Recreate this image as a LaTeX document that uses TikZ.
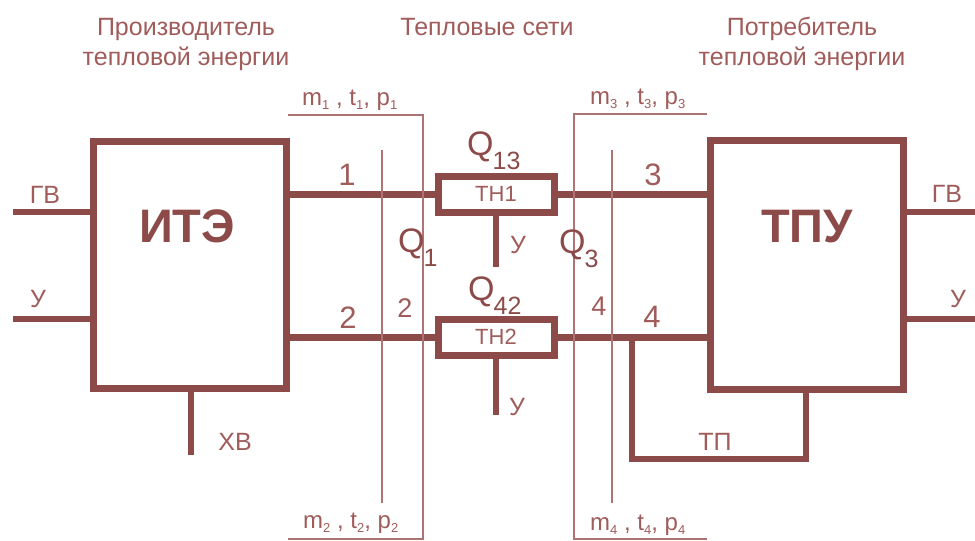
\documentclass[tikz,border=0pt]{standalone}
\usepackage{fontspec}
\setmainfont{Liberation Sans}
\definecolor{ln}{RGB}{140,74,72}
\definecolor{tx}{RGB}{160,92,90}
\newcommand\Qsub[1]{Q\kern-1pt\raisebox{-14pt}{\fontsize{25}{25}\selectfont #1}}
\newcommand\psub[1]{\raisebox{-4pt}{\fontsize{13}{13}\selectfont #1}}
\begin{document}
\begin{tikzpicture}[x=1pt,y=-1pt,
  bigbox/.style={draw=ln,line width=7pt,rectangle,inner sep=0pt},
  thbox/.style={draw=ln,line width=7pt,rectangle,inner sep=0pt,minimum width=116pt,minimum height=36pt,text=tx,font=\fontsize{22}{22}\selectfont},
  pipe/.style={draw=ln,line width=7pt},
  wire/.style={draw=ln,line width=6pt},
  thin/.style={draw=tx!85,line width=1.6pt},
  lbl/.style={text=tx,inner sep=0pt,anchor=base,font=\fontsize{25}{25}\selectfont},
  plbl/.style={text=tx,inner sep=0pt,anchor=base west,font=\fontsize{24}{24}\selectfont},
  num/.style={text=tx,inner sep=0pt,anchor=base,font=\fontsize{31}{31}\selectfont},
  snum/.style={text=tx,inner sep=0pt,anchor=base,font=\fontsize{27}{27}\selectfont},
  qq/.style={text=ln,inner sep=0pt,anchor=base west,font=\fontsize{34}{34}\selectfont},
  big/.style={text=ln,inner sep=0pt,anchor=base,font=\bfseries\fontsize{47}{47}\selectfont}]
\useasboundingbox (0,0) rectangle (975,541);
% headers
\node[lbl] (h1a) at (186,35) {Производитель};
\node[lbl] (h1b) at (186,65) {тепловой энергии};
\node[lbl] (h2) at (487,35) {Тепловые сети};
\node[lbl] (h3a) at (802,35) {Потребитель};
\node[lbl] (h3b) at (802,65) {тепловой энергии};
% main boxes
\node[bigbox,minimum width=193pt,minimum height=247pt] (ite) at (189.5,264.5) {};
\node[bigbox,minimum width=193pt,minimum height=249pt] (tpu) at (806.5,265) {};
\node[big] (iteT) at (187,242) {ИТЭ};
\node[big] (tpuT) at (807,242) {ТПУ};
% TH boxes
\node[thbox] (th1) at (496,194) {ТН1};
\node[thbox] (th2) at (496,337) {ТН2};
% pipes
\draw[pipe] (ite.east |- th1) -- (th1.west);
\draw[pipe] (ite.east |- th2) -- (th2.west);
\draw[pipe] (th1.east) -- (tpu.west |- th1);
\draw[pipe] (th2.east) -- (tpu.west |- th2);
% left external wires
\coordinate (gvL) at (13,212);
\coordinate (uL) at (13,319);
\coordinate (xv) at (191,455);
\draw[wire] (gvL) -- (gvL -| ite.west);
\draw[wire] (uL) -- (uL -| ite.west);
\draw[wire] (xv) -- (xv |- ite.south);
\node[lbl] (gvLt) at (45,203) {ГВ};
\node[lbl] (uLt) at (38,307) {У};
\node[lbl] (xvt) at (235,450) {ХВ};
% right external wires
\coordinate (gvR) at (975,212);
\coordinate (uR) at (975,319);
\draw[wire] (tpu.east |- gvR) -- (gvR);
\draw[wire] (tpu.east |- uR) -- (uR);
\node[lbl] (gvRt) at (947,202) {ГВ};
\node[lbl] (uRt) at (958,307) {У};
% TH stems
\coordinate (y1) at (496,267);
\coordinate (y2) at (496,415);
\draw[wire] (th1.south) -- (y1);
\draw[wire] (th2.south) -- (y2);
\node[lbl] (y1t) at (518,253) {У};
\node[lbl] (y2t) at (517,415) {У};
% TP loop
\coordinate (tpa) at (632,337);
\coordinate (tpb) at (632,459);
\coordinate (tpc) at (806,459);
\draw[wire,line join=miter] (tpa) -- (tpb) -- (tpc) -- (tpc |- tpu.south);
\node[lbl] (tpt) at (715,450) {ТП};
% thin brackets
\coordinate (la) at (288,115);
\coordinate (lb) at (423,115);
\coordinate (lc) at (423,539);
\coordinate (ld) at (288,539);
\draw[thin] (la) -- (lb) -- (lc) -- (ld);
\coordinate (ra) at (707,114);
\coordinate (rb) at (574,114);
\coordinate (rc) at (574,539);
\coordinate (rd) at (707,539);
\draw[thin] (ra) -- (rb) -- (rc) -- (rd);
\coordinate (lv1) at (382,150);
\coordinate (lv2) at (382,503);
\draw[thin] (lv1) -- (lv2);
\coordinate (rv1) at (612,150);
\coordinate (rv2) at (612,503);
\draw[thin] (rv1) -- (rv2);
% parameter labels
\node[plbl] (p1) at (302,105) {m\psub{1} , t\psub{1}, p\psub{1}};
\node[plbl] (p2) at (303,528) {m\psub{2} , t\psub{2}, p\psub{2}};
\node[plbl] (p3) at (590,104) {m\psub{3} , t\psub{3}, p\psub{3}};
\node[plbl] (p4) at (590,530) {m\psub{4} , t\psub{4}, p\psub{4}};
% numbers
\node[num] (n1) at (347,185) {1};
\node[num] (n2) at (348,328) {2};
\node[num] (n3) at (653,185) {3};
\node[num] (n4) at (652,327) {4};
\node[snum] (n2s) at (405,317) {2};
\node[snum] (n4s) at (599,315) {4};
% heat flows
\node[qq] (q1) at (398,252) {\Qsub{1}};
\node[qq] (q3) at (559,253) {\Qsub{3}};
\node[qq] (q13) at (467,155) {\Qsub{13}};
\node[qq] (q42) at (468,300) {\Qsub{42}};
\end{tikzpicture}
\end{document}
